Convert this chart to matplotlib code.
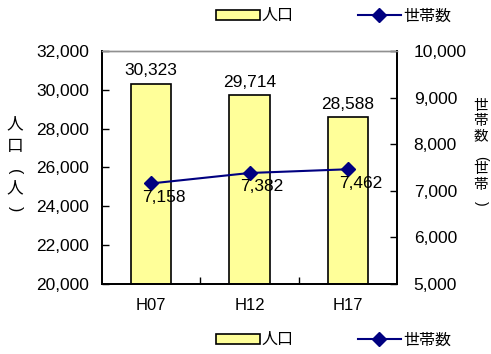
import matplotlib
matplotlib.use("Agg")
import matplotlib.pyplot as plt
from matplotlib.patches import Patch
from matplotlib.lines import Line2D
from matplotlib.ticker import FuncFormatter, MultipleLocator

plt.rcParams['font.family'] = ['Liberation Sans', 'Noto Sans CJK JP', 'DejaVu Sans']

years = ["H07", "H12", "H17"]
population = [30323, 29714, 28588]
households = [7158, 7382, 7462]

BAR_COLOR = "#FFFF99"
LINE_COLOR = "#000080"
JP_FONT = ['Noto Sans CJK JP', 'DejaVu Sans']
W, H = 491, 354

fig = plt.figure(figsize=(W / 100, H / 100), dpi=100)
ax = fig.add_axes([0.2077, 0.1977, 0.6009, 0.6583])
ax2 = ax.twinx()

x = list(range(len(years)))
ax.bar(x, population, width=0.41, color=BAR_COLOR, edgecolor="black", linewidth=1.2, zorder=2)
for xi, v in zip(x, population):
    ax.annotate(f"{v:,}", (xi, v), xytext=(0, 4), textcoords="offset points",
                ha="center", va="bottom", fontsize=12.5)

ax2.plot(x, households, color=LINE_COLOR, lw=1.5, marker="D", markersize=7,
         markerfacecolor=LINE_COLOR, markeredgecolor=LINE_COLOR, zorder=3)
for xi, v in zip(x, households):
    ax2.annotate(f"{v:,}", (xi, v), xytext=(9, -10), textcoords="offset points",
                 ha="center", va="center", fontsize=12.5)

ax.set_xlim(-0.5, 2.5)
ax.set_ylim(20000, 32000)
ax2.set_ylim(5000, 10000)

comma = FuncFormatter(lambda v, p: f"{int(v):,}")
ax.yaxis.set_major_locator(MultipleLocator(2000))
ax.yaxis.set_major_formatter(comma)
ax2.yaxis.set_major_locator(MultipleLocator(1000))
ax2.yaxis.set_major_formatter(comma)

# category ticks sit between groups
ax.set_xticks([0.5, 1.5])
ax.set_xticklabels([])
ax.set_xticks(x, minor=True)
ax.set_xticklabels(years, minor=True)
ax.tick_params(axis="x", which="major", direction="in", length=5, width=1)
ax.tick_params(axis="x", which="minor", length=0, pad=10, labelsize=12)
ax.tick_params(axis="y", direction="in", length=5, width=1, pad=9, labelsize=12.5)
ax2.tick_params(axis="y", direction="in", length=5, width=1, pad=12, labelsize=12.5)

for a in (ax, ax2):
    for s in ("left", "right", "bottom"):
        a.spines[s].set_color("black")
        a.spines[s].set_linewidth(1.3)
    a.spines["top"].set_color("#909090")
    a.spines["top"].set_linewidth(1.0)


def vertical_label(chars, xpix, ypix, size):
    # stacked characters; brackets turned on their side
    for ch, yp in zip(chars, ypix):
        if ch in "()":
            fig.text(xpix / W, 1 - yp / H, ch, fontsize=size * 0.95,
                     family="Liberation Sans", ha="center", va="center",
                     rotation=-90, rotation_mode="anchor")
        else:
            fig.text(xpix / W, 1 - yp / H, ch, fontsize=size, family=JP_FONT,
                     ha="center", va="center")


vertical_label("人口(人)", 15, [124, 146, 172, 188, 209], 12)
vertical_label("世帯数(世帯)", 481, [106, 121, 136, 158, 169, 185, 203], 10.5)

handles = [
    Patch(facecolor=BAR_COLOR, edgecolor="black", linewidth=1.2),
    Line2D([], [], color=LINE_COLOR, lw=1.5, marker="D", markersize=7,
           markerfacecolor=LINE_COLOR, markeredgecolor=LINE_COLOR),
]
labels = ["人口", "世帯数"]
for yc in (0.955, 0.04):
    fig.legend(handles, labels, loc="center", bbox_to_anchor=(0.68, yc), ncol=2,
               frameon=False, handlelength=2.7, handleheight=0.55, handletextpad=0.15,
               columnspacing=4.0, prop={"family": JP_FONT, "size": 11.5})

fig.savefig("out.png", dpi=100)
